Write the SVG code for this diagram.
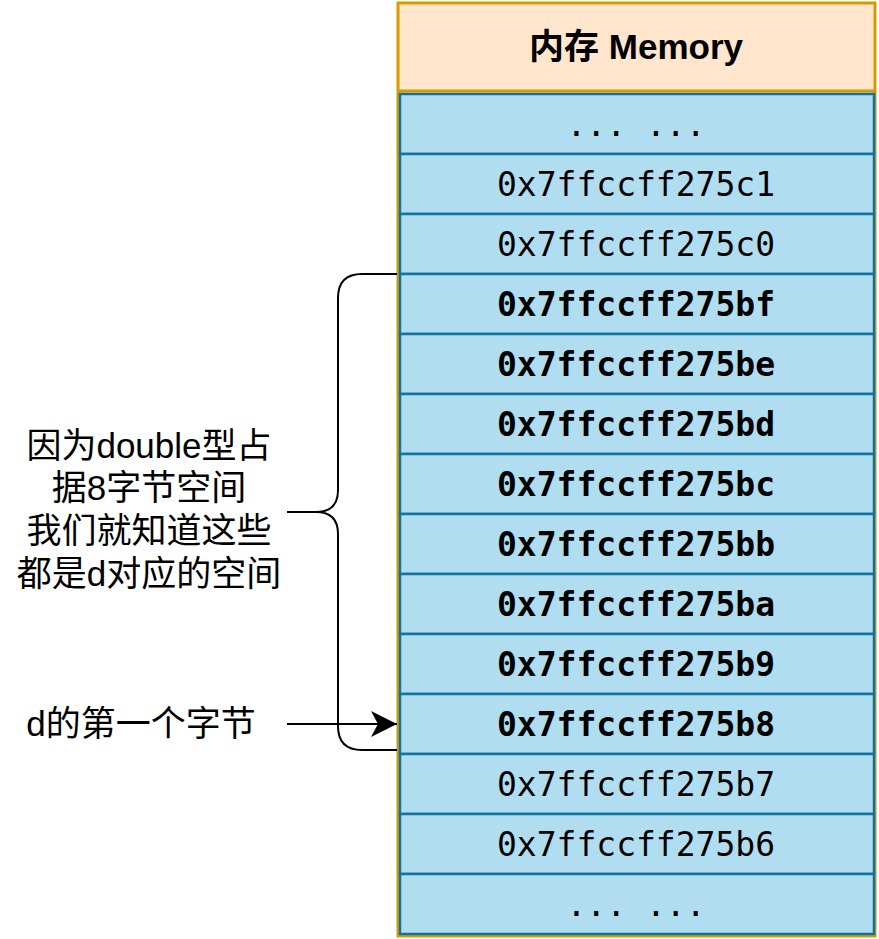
<svg xmlns="http://www.w3.org/2000/svg" width="879" height="939" viewBox="0 0 879 939">
<style>
.cell{fill:#b1ddf0;stroke:#10739e;stroke-width:2.5}
.addr{font-family:"DejaVu Sans Mono","Liberation Mono",monospace;font-size:33px;fill:#000;text-anchor:middle;dominant-baseline:central}
.b{font-weight:bold}
.lbl{font-family:"Liberation Sans","Noto Sans CJK SC",sans-serif;font-size:35px;fill:#000;text-anchor:middle}
.ln{fill:none;stroke:#000;stroke-width:2}
</style>
<defs>
<marker id="arr" markerUnits="userSpaceOnUse" markerWidth="30" markerHeight="30" refX="26" refY="13" orient="auto">
<path d="M0,0 L26,13 L0,26 L7,13 Z" fill="#000"/>
</marker>
</defs>
<g id="memory">
<rect x="398" y="3" width="477" height="933" fill="#ffe6cc" stroke="#d79b00" stroke-width="3"/>
<line x1="398" y1="91" x2="875" y2="91" stroke="#d79b00" stroke-width="3"/>
<text x="636" y="46" font-family="Liberation Sans, Noto Sans CJK SC, sans-serif" font-size="35" font-weight="bold" text-anchor="middle" dominant-baseline="central">内存 Memory</text>
</g>
<g id="cell0"><rect class="cell" x="400" y="94" width="474" height="60"/><text class="addr" x="636" y="124">... ...</text></g>
<g id="cell1"><rect class="cell" x="400" y="154" width="474" height="60"/><text class="addr" x="636" y="184">0x7ffccff275c1</text></g>
<g id="cell2"><rect class="cell" x="400" y="214" width="474" height="60"/><text class="addr" x="636" y="244">0x7ffccff275c0</text></g>
<g id="cell3"><rect class="cell" x="400" y="274" width="474" height="60"/><text class="addr b" x="636" y="304">0x7ffccff275bf</text></g>
<g id="cell4"><rect class="cell" x="400" y="334" width="474" height="60"/><text class="addr b" x="636" y="364">0x7ffccff275be</text></g>
<g id="cell5"><rect class="cell" x="400" y="394" width="474" height="60"/><text class="addr b" x="636" y="424">0x7ffccff275bd</text></g>
<g id="cell6"><rect class="cell" x="400" y="454" width="474" height="60"/><text class="addr b" x="636" y="484">0x7ffccff275bc</text></g>
<g id="cell7"><rect class="cell" x="400" y="514" width="474" height="60"/><text class="addr b" x="636" y="544">0x7ffccff275bb</text></g>
<g id="cell8"><rect class="cell" x="400" y="574" width="474" height="60"/><text class="addr b" x="636" y="604">0x7ffccff275ba</text></g>
<g id="cell9"><rect class="cell" x="400" y="634" width="474" height="60"/><text class="addr b" x="636" y="664">0x7ffccff275b9</text></g>
<g id="cell10"><rect class="cell" x="400" y="694" width="474" height="60"/><text class="addr b" x="636" y="724">0x7ffccff275b8</text></g>
<g id="cell11"><rect class="cell" x="400" y="754" width="474" height="60"/><text class="addr" x="636" y="784">0x7ffccff275b7</text></g>
<g id="cell12"><rect class="cell" x="400" y="814" width="474" height="60"/><text class="addr" x="636" y="844">0x7ffccff275b6</text></g>
<g id="cell13"><rect class="cell" x="400" y="874" width="474" height="60"/><text class="addr" x="636" y="904">... ...</text></g>
<g id="brace">
<path class="ln" d="M397,274 L362,274 Q338,274 338,298 L338,490 Q338,512 316,512 L287,512 M316,512 Q338,512 338,534 L338,726 Q338,750 362,750 L397,750"/>
</g>
<g id="note1">
<text class="lbl" x="149" y="458">因为double型占</text>
<text class="lbl" x="149" y="500">据8字节空间</text>
<text class="lbl" x="149" y="543">我们就知道这些</text>
<text class="lbl" x="149" y="586">都是d对应的空间</text>
</g>
<g id="note2">
<text class="lbl" x="141" y="736">d的第一个字节</text>
</g>
<g id="connectors">
<line class="ln" x1="287" y1="724" x2="397" y2="724" marker-end="url(#arr)"/>
</g>
</svg>
